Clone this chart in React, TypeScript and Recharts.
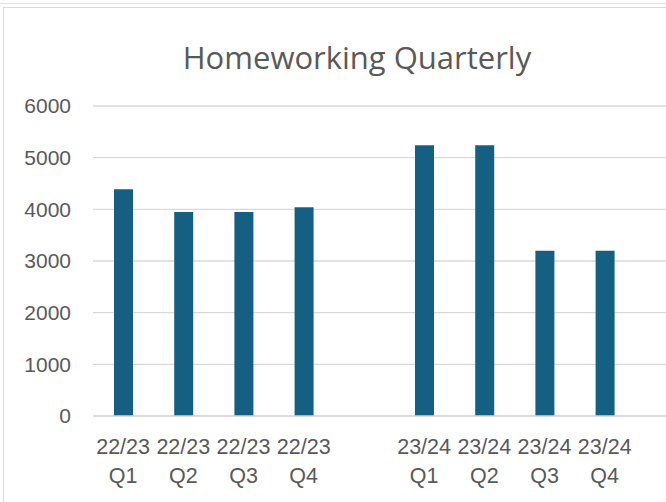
import { BarChart, Bar, XAxis, YAxis, CartesianGrid } from "recharts";

const BAR_BLUE = "#156082";
const GRID_GREY = "#d9d9d9";
const TEXT_GREY = "#595959";
const TITLE_FONT = "'Open Sans', sans-serif";
const TICK_FONT = "'Liberation Sans', Arial, sans-serif";

// one empty slot between the two years, one more cut off at the right edge
const quarters = ["22/23 Q1", "22/23 Q2", "22/23 Q3", "22/23 Q4", "", "23/24 Q1", "23/24 Q2", "23/24 Q3", "23/24 Q4", ""];
const homeworking = [4390, 3950, 3950, 4040, null, 5240, 5240, 3200, 3200, null];
const yTicks = [0, 1000, 2000, 3000, 4000, 5000, 6000];

const data = quarters.map((q, i) => ({ quarter: q, value: homeworking[i] }));

function QuarterTick({ x, y, payload }: any) {
  const label: string = payload?.value ?? "";
  if (!label) return null;
  const [year, q] = label.split(" ");
  return (
    <text x={x} textAnchor="middle" fill={TEXT_GREY} fontSize={21.5} fontFamily={TICK_FONT}>
      <tspan x={x} y={y + 38}>{year}</tspan>
      <tspan x={x} y={y + 67}>{q}</tspan>
    </text>
  );
}

export default function App() {
  return (
    <div
      style={{
        position: "absolute",
        left: 0,
        top: 0,
        width: 666,
        height: 502,
        overflow: "hidden",
        background: "#fff",
      }}
    >
      <div style={{ position: "absolute", left: 0, top: 3, width: 666, height: 1, background: "#e3e3e3" }} />
      <div
        style={{
          position: "absolute",
          left: 3,
          top: 7,
          width: 800,
          height: 600,
          borderLeft: `1px solid ${GRID_GREY}`,
          borderTop: `1px solid ${GRID_GREY}`,
        }}
      />
      <div style={{ position: "absolute", left: 0, top: 0 }}>
        <BarChart
          width={720}
          height={502}
          data={data}
          margin={{ top: 106, right: 25, left: 0, bottom: 6 }}
          barSize={19}
        >
          <CartesianGrid vertical={false} stroke={GRID_GREY} strokeWidth={1.3} />
          <XAxis
            dataKey="quarter"
            interval={0}
            height={80}
            tickSize={0}
            tickMargin={0}
            axisLine={{ stroke: GRID_GREY, strokeWidth: 1.3 }}
            tickLine={false}
            tick={<QuarterTick />}
          />
          <YAxis
            width={93}
            domain={[0, 6000]}
            ticks={yTicks}
            tickSize={0}
            tickMargin={22}
            axisLine={false}
            tickLine={false}
            tick={{ fill: TEXT_GREY, fontSize: 21, fontFamily: TICK_FONT }}
          />
          <Bar dataKey="value" fill={BAR_BLUE} isAnimationActive={false} />
        </BarChart>
      </div>
      <svg width={666} height={110} style={{ position: "absolute", left: 0, top: 0 }}>
        <text x={357} y={69} textAnchor="middle" fill={TEXT_GREY} fontSize={31} fontFamily={TITLE_FONT}>
          Homeworking Quarterly
        </text>
      </svg>
    </div>
  );
}
